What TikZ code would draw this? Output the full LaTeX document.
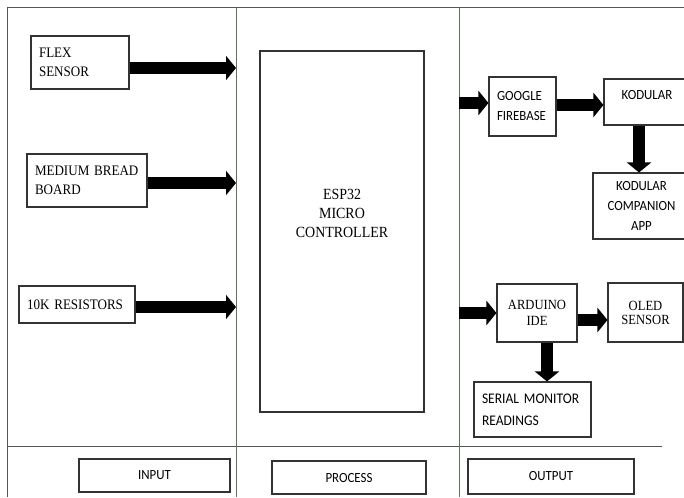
\documentclass[tikz,border=0pt]{standalone}
\usepackage{fontspec}
\setmainfont[FakeStretch=0.9]{Liberation Serif}
\newfontfamily\calfont[FakeStretch=0.92]{Carlito}
\usetikzlibrary{arrows.meta}
\definecolor{framegray}{RGB}{85,85,85}
\definecolor{divgreen}{RGB}{100,112,92}

\begin{document}
\begin{tikzpicture}[x=1pt, y=-1pt,
  box/.style={draw=black!80, line width=1.1pt, inner sep=0pt},
  lbox/.style={box, align=left, inner xsep=8pt},
  serif/.style={font=\fontsize{14.5}{19}\selectfont},
  sans/.style={font=\calfont\fontsize{14}{20}\selectfont},
  blk/.style={line width=12pt, -{Triangle[width=24pt, length=10pt]}},
  frameline/.style={draw=framegray, line width=1pt},
  divider/.style={draw=divgreen, line width=1pt}]
  \useasboundingbox (0,0) rectangle (684,497);
  % frame and columns
  \draw[frameline] (684,8) -- (7,8) -- (7,497);
  \draw[frameline] (7,446) -- (662,446);
  \draw[divider] (236,8) -- (236,497);
  \draw[divider] (459,8) -- (459,497);
  \coordinate (divA) at (236,0);
  \coordinate (divB) at (459,0);
  % input
  \node[lbox, serif, text width=82pt, minimum height=53pt] (flex) at (80,62.5) {FLEX\\SENSOR};
  \node[lbox, serif, text width=104pt, minimum height=53pt] (bread) at (87,180.5) {MEDIUM BREAD\\BOARD};
  \node[lbox, serif, text width=100pt, minimum height=37pt] (res) at (77,304.5) {10K RESISTORS};
  % process
  \node[box, minimum width=164pt, minimum height=361pt] (esp) at (342,231.5) {};
  \node[align=center, font=\fontsize{15.5}{19}\selectfont] (esptxt) at (342,213) {ESP32\\MICRO\\CONTROLLER};
  % output
  \node[lbox, sans, text width=51pt, minimum height=59pt] (google) at (522.5,106.5) {GOOGLE\\FIREBASE};
  \node[box, sans, minimum width=86pt, minimum height=46pt, text height=9pt, text depth=14.6pt] (kod) at (647,102) {KODULAR};
  \node[box, sans, align=center, minimum width=97pt, minimum height=66pt] (comp) at (641.5,206) {KODULAR\\COMPANION\\APP};
  \node[box, align=center, font=\fontsize{14}{16}\selectfont, minimum width=80pt, minimum height=58pt] (ard) at (537,313) {ARDUINO\\IDE};
  \node[box, align=center, font=\fontsize{14}{14}\selectfont, minimum width=75pt, minimum height=59pt] (oled) at (645.5,312.5) {OLED\\SENSOR};
  \node[lbox, font=\calfont\fontsize{14.7}{22}\selectfont, text width=101pt, minimum height=55pt] (serial) at (532.5,409.5) {SERIAL MONITOR\\READINGS};
  % column titles
  \node[box, sans, minimum width=151pt, minimum height=33pt] (inp) at (154.5,475.5) {INPUT};
  \node[box, sans, minimum width=154pt, minimum height=33pt] (proc) at (349,477.5) {PROCESS};
  \node[box, sans, minimum width=166pt, minimum height=35pt] (outp) at (551,476.5) {OUTPUT};
  % arrows
  \draw[blk] ([yshift=-5.5pt]flex.east) -- ([yshift=-5.5pt]flex.east -| divA);
  \draw[blk] ([yshift=-2.5pt]bread.east) -- ([yshift=-2.5pt]bread.east -| divA);
  \draw[blk] ([yshift=-2.5pt]res.east) -- ([yshift=-2.5pt]res.east -| divA);
  \draw[blk] ([yshift=3.5pt]google.west -| divB) -- ([yshift=3.5pt]google.west);
  \draw[blk] ([yshift=1.5pt]google.east) -- ([yshift=1.5pt]google.east -| kod.west);
  \draw[blk] ([xshift=-8pt]kod.south) -- ([xshift=-8pt]kod.south |- comp.north);
  \draw[blk] (ard.west -| divB) -- (ard.west);
  \draw[blk] ([yshift=-7pt]ard.east) -- ([yshift=-7pt]ard.east -| oled.west);
  \draw[blk] ([xshift=10pt]ard.south) -- ([xshift=10pt]ard.south |- serial.north);
\end{tikzpicture}
\end{document}
